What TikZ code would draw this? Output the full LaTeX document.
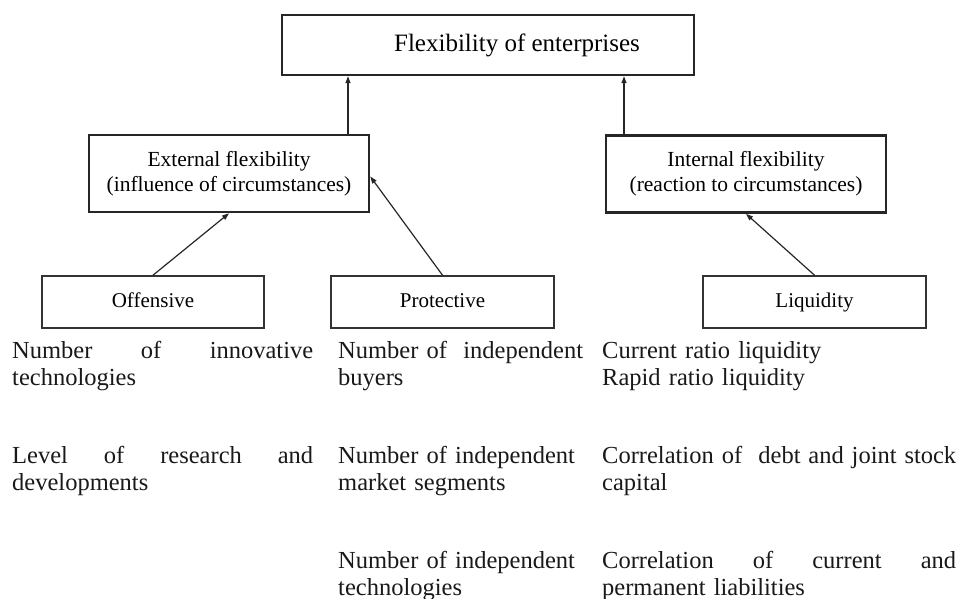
\documentclass[tikz,border=0pt]{standalone}
\usepackage{fontspec}
\setmainfont{Liberation Serif}
\usetikzlibrary{arrows.meta,calc}
\begin{document}
\begin{tikzpicture}[x=1pt,y=-1pt,
  topbox/.style={draw=black!85,line width=2.4pt,minimum width=412pt,minimum height=60pt,inner sep=0pt,font=\fontsize{25}{29}\selectfont},
  midbox/.style={draw=black!85,line width=2.6pt,minimum width=280pt,minimum height=77pt,inner sep=0pt,align=center,font=\fontsize{21.5}{25}\selectfont},
  lowbox/.style={draw=black!80,line width=1.6pt,minimum width=223pt,minimum height=52pt,inner sep=0pt,text height=15pt,text depth=4pt,font=\fontsize{21}{25}\selectfont},
  body/.style={anchor=base west,inner sep=0pt,align=left,text=black!90,font=\fontsize{24.5}{27}\selectfont},
  arr/.style={draw=black!85,line width=1.2pt,-{Triangle[length=7pt,width=5pt]}}]
\useasboundingbox (0,0) rectangle (956,599);
\node[topbox] (top) at (488,45) {\hspace*{58pt}Flexibility of enterprises};
\node[midbox] (ext) at (229,173.5) {External flexibility\\(influence of circumstances)};
\node[midbox] (int) at (746,174) {Internal flexibility\\(reaction to circumstances)};
\node[lowbox,minimum width=222pt] (off) at (153,302) {Offensive};
\node[lowbox] (prot) at (442.5,302) {Protective};
\node[lowbox] (liq) at (814.5,302) {Liquidity};
\draw[arr] ([xshift=119pt]ext.north) -- ([xshift=119pt]ext.north |- top.south);
\draw[arr] ([xshift=-122pt]int.north) -- ([xshift=-122pt]int.north |- top.south);
\draw[arr] (off.north) -- (ext.south);
\draw[arr] (prot.north) -- ([yshift=-3pt]ext.east);
\draw[arr] (liq.north) -- (int.south);
\node[body,text width=301pt] (c1a) at (12,358) {Number\hfill of\hfill innovative\\technologies};
\node[body,text width=301pt] (c1b) at (12,463) {Level\hfill of\hfill research\hfill and\\developments};
\node[body,text width=245pt] (c2a) at (338,358) {Number of\ \ independent\\buyers};
\node[body,text width=245pt] (c2b) at (338,463) {Number of independent\\market segments};
\node[body,text width=245pt] (c2c) at (338,568) {Number of independent\\technologies};
\node[body,text width=354pt] (c3a) at (602,358) {Current ratio liquidity\\Rapid ratio liquidity};
\node[body,text width=354pt] (c3b) at (602,463) {Correlation of\ \hfill debt\hfill and\hfill joint\hfill stock\\capital};
\node[body,text width=354pt] (c3c) at (602,568) {Correlation\hfill of\hfill current\hfill and\\permanent liabilities};
\end{tikzpicture}
\end{document}
